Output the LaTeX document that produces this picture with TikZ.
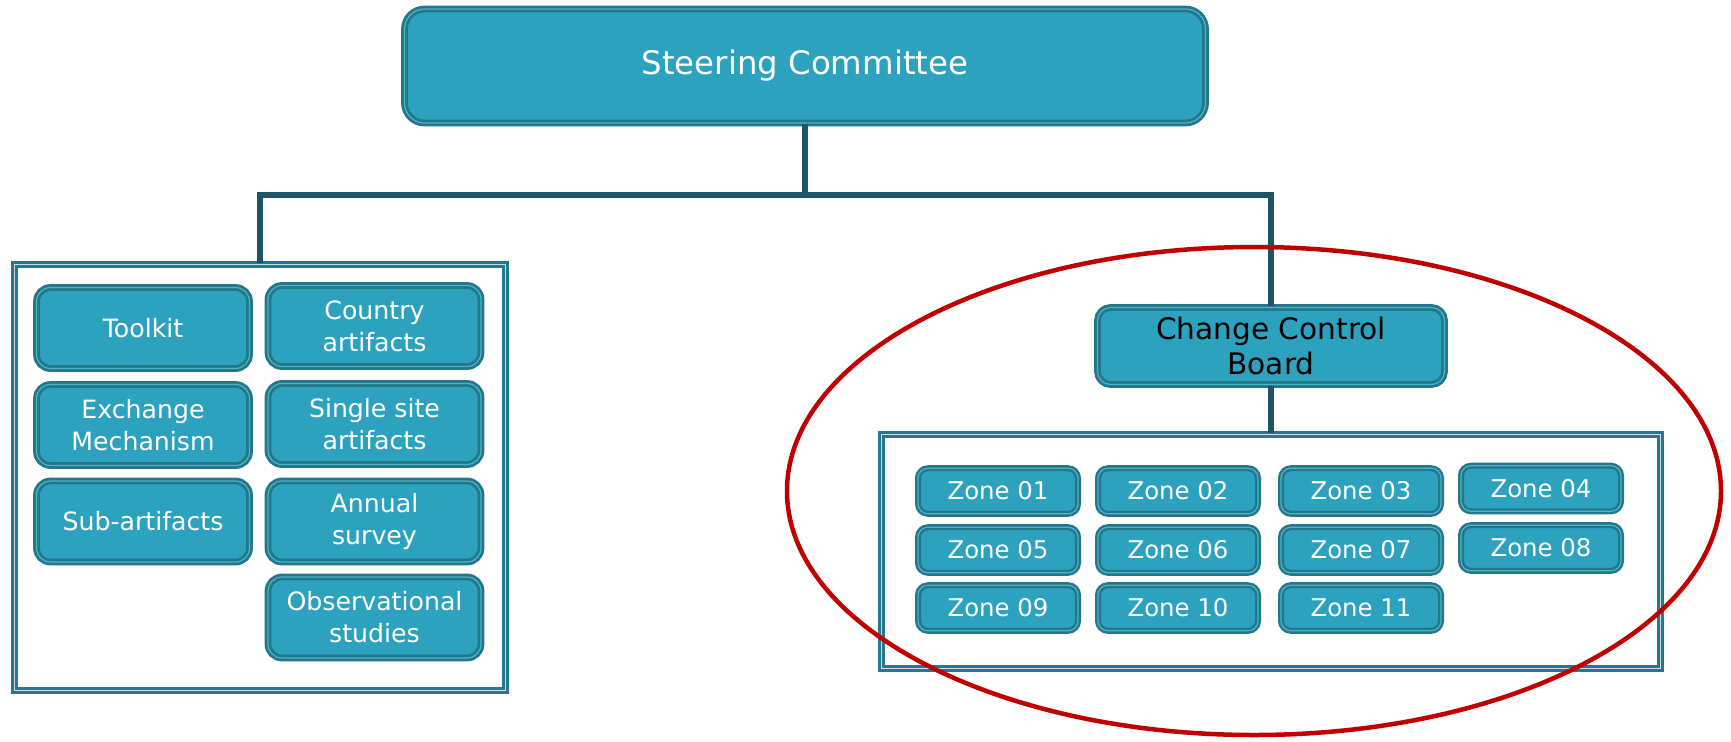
\documentclass[tikz,border=0pt]{standalone}
\usepackage{fontspec}
\setmainfont{DejaVu Sans}
\usetikzlibrary{shapes.geometric}

\definecolor{tealfill}{HTML}{2DA2BF}
\definecolor{tealedge}{HTML}{22778B}
\definecolor{teallight}{HTML}{4FB2C9}
\definecolor{busline}{HTML}{1D5566}
\definecolor{frameedge}{HTML}{23798D}
\definecolor{framegap}{HTML}{D3DBDD}
\definecolor{markred}{HTML}{C00000}

\tikzset{
  unitbox/.style={rectangle, rounded corners=7pt, draw=tealedge, line width=1.4pt,
    double=teallight, double distance=0.6pt, fill=tealfill, text=white,
    align=center, inner sep=0pt},
  taskbox/.style={unitbox, minimum width=106.5pt, minimum height=40.5pt,
    font=\fontsize{12.6}{16}\selectfont},
  zonebox/.style={unitbox, rounded corners=5pt, line width=1.2pt, minimum width=80pt,
    minimum height=22.8pt, font=\fontsize{12.2}{14}\selectfont},
  groupframe/.style={rectangle, draw=frameedge, line width=1.4pt, double=framegap,
    double distance=0.7pt, fill=white, inner sep=0pt},
  bus/.style={draw=busline, line width=3.2pt},
}

\begin{document}
\begin{tikzpicture}[x=0.5pt, y=-0.5pt]
    \useasboundingbox (0, 0) rectangle (1731, 741);

    % top level
    \node [unitbox, rounded corners=10pt, minimum width=400.5pt, minimum height=57pt, font=\fontsize{16.2}{20}\selectfont] (steering) at (805, 66) {Steering Committee};

    % left group
    \node [groupframe, minimum width=245.5pt, minimum height=213pt] (leftgroup) at (260, 477.5) {};
    \node [taskbox] (toolkit) at (143, 328) {Toolkit};
    \node [taskbox] (exchange) at (143, 425) {Exchange\\Mechanism};
    \node [taskbox] (subartifacts) at (143, 521.5) {Sub-artifacts};
    \node [taskbox] (country) at (374.5, 326) {Country\\artifacts};
    \node [taskbox] (singlesite) at (374.5, 424) {Single site\\artifacts};
    \node [taskbox] (survey) at (374.5, 521.5) {Annual\\survey};
    \node [taskbox] (observational) at (374.5, 617.5) {Observational\\studies};

    % right group
    \node [unitbox, rounded corners=6.5pt, minimum width=173.5pt, minimum height=38.5pt, text=black, font=\fontsize{14.8}{17.5}\selectfont] (ccb) at (1271, 346) {Change Control\\Board};
    \node [groupframe, minimum width=389.5pt, minimum height=117pt] (zonegroup) at (1271, 551.5) {};
    \node [zonebox] (zone01) at (998, 491) {Zone 01};
    \node [zonebox] (zone02) at (1178, 491) {Zone 02};
    \node [zonebox] (zone03) at (1361, 491) {Zone 03};
    \node [zonebox] (zone04) at (1541, 488.5) {Zone 04};
    \node [zonebox] (zone05) at (998, 550) {Zone 05};
    \node [zonebox] (zone06) at (1178, 550) {Zone 06};
    \node [zonebox] (zone07) at (1361, 550) {Zone 07};
    \node [zonebox] (zone08) at (1541, 548) {Zone 08};
    \node [zonebox] (zone09) at (998, 608) {Zone 09};
    \node [zonebox] (zone10) at (1178, 608) {Zone 10};
    \node [zonebox] (zone11) at (1361, 608) {Zone 11};

    \coordinate (split) at (805, 195);
    \draw [bus] (steering.south) -- (split) -| (leftgroup.north);
    \draw [bus] (split) -| (ccb.north);
    \draw [bus] (ccb.south) -- (zonegroup.north);

    \node [ellipse, draw=markred, line width=2.25pt, inner sep=0pt, minimum width=467pt, minimum height=244pt] (focus) at (1254, 491) {};
  \end{tikzpicture}
\end{document}
